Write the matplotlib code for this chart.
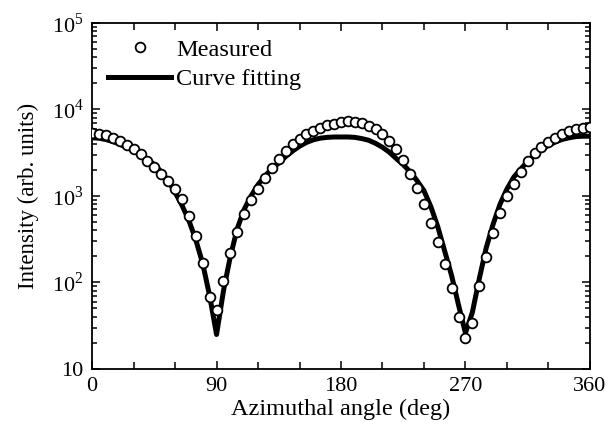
import matplotlib
matplotlib.use("Agg")
import matplotlib.pyplot as plt
from matplotlib.ticker import FixedLocator, LogLocator, NullFormatter

# serif look like the scanned figure
plt.rcParams['font.family'] = ['Liberation Serif', 'DejaVu Serif']
plt.rcParams['mathtext.fontset'] = 'custom'
plt.rcParams['mathtext.rm'] = 'Liberation Serif'

# measured points, every 5 deg
angle_meas = list(range(0, 365, 5))
intensity_meas = [5400, 5250, 5000, 4700, 4270, 3900, 3470, 3020, 2510, 2140,
                  1780, 1480, 1200, 920, 590, 346, 166, 67, 48,
                  105, 216, 385, 615, 890, 1200, 1630, 2130, 2650, 3300,
                  3950, 4600, 5150, 5700, 6150, 6550, 6850, 7100,
                  7300, 7200, 6900, 6450, 5870, 5250, 4370, 3470, 2620,
                  1780, 1220, 800, 480, 290, 163, 87, 40, 23,
                  34, 90, 195, 375, 630, 1000, 1360, 1900, 2530, 3170,
                  3720, 4200, 4700, 5150, 5600, 5900, 6150, 6200]

# fitted curve
angle_fit = list(range(0, 365, 5))
intensity_fit = [4700, 4650, 4480, 4250, 3950, 3650, 3350, 3000, 2650, 2300,
                 1900, 1500, 1100, 780, 520, 310, 165, 70, 25,
                 80, 200, 420, 700, 1000, 1350, 1700, 2050, 2400, 2850,
                 3300, 3750, 4150, 4450, 4650, 4750, 4800, 4800,
                 4800, 4750, 4600, 4400, 4050, 3650, 3200, 2700, 2300,
                 1900, 1500, 1150, 750, 440, 230, 120, 55, 26,
                 45, 110, 250, 470, 800, 1200, 1650, 2050, 2500, 2950,
                 3400, 3850, 4200, 4500, 4700, 4850, 4900, 4900]

x_ticks = [0, 90, 180, 270, 360]
y_ticks = [10, 100, 1000, 10000, 100000]
y_ticklabels = ['10', '$10^2$', '$10^3$', '$10^4$', '$10^5$']

fig = plt.figure(figsize=(6.1, 4.32), dpi=100)
ax = fig.add_axes([0.151, 0.146, 0.816, 0.801])

ax.plot(angle_meas, intensity_meas, 'o', mfc='white', mec='black', ms=7,
        mew=1.3, label='Measured', zorder=3)
ax.plot(angle_fit, intensity_fit, '-', color='black', lw=3.6,
        label='Curve fitting', zorder=2)

ax.set_yscale('log')
ax.set_xlim(0, 360)
ax.set_ylim(10, 1e5)

ax.xaxis.set_major_locator(FixedLocator(x_ticks))
ax.xaxis.set_minor_locator(FixedLocator(list(range(0, 361, 30))))
ax.set_xticklabels([str(v) for v in x_ticks])
ax.yaxis.set_major_locator(FixedLocator(y_ticks))
ax.set_yticklabels(y_ticklabels)
ax.yaxis.set_minor_locator(LogLocator(base=10, subs=range(2, 10)))
ax.yaxis.set_minor_formatter(NullFormatter())

ax.tick_params(which='both', direction='in', top=True, right=True,
               labelsize=16, width=1.1)
ax.tick_params(which='major', length=6, pad=6)
ax.tick_params(which='minor', length=3.5)
ax.tick_params(axis='x', which='minor', length=5)
for s in ax.spines.values():
    s.set_linewidth(1.3)

ax.set_xlabel('Azimuthal angle (deg)', fontsize=17.5, labelpad=2)
ax.set_ylabel('Intensity (arb. units)', fontsize=16.5, labelpad=9)

ax.legend(loc='upper left', frameon=False, fontsize=17.5, handlelength=2.6,
          handletextpad=0.2, borderaxespad=0.2, labelspacing=0.3,
          borderpad=0.45)

fig.savefig('out.png', dpi=100)
